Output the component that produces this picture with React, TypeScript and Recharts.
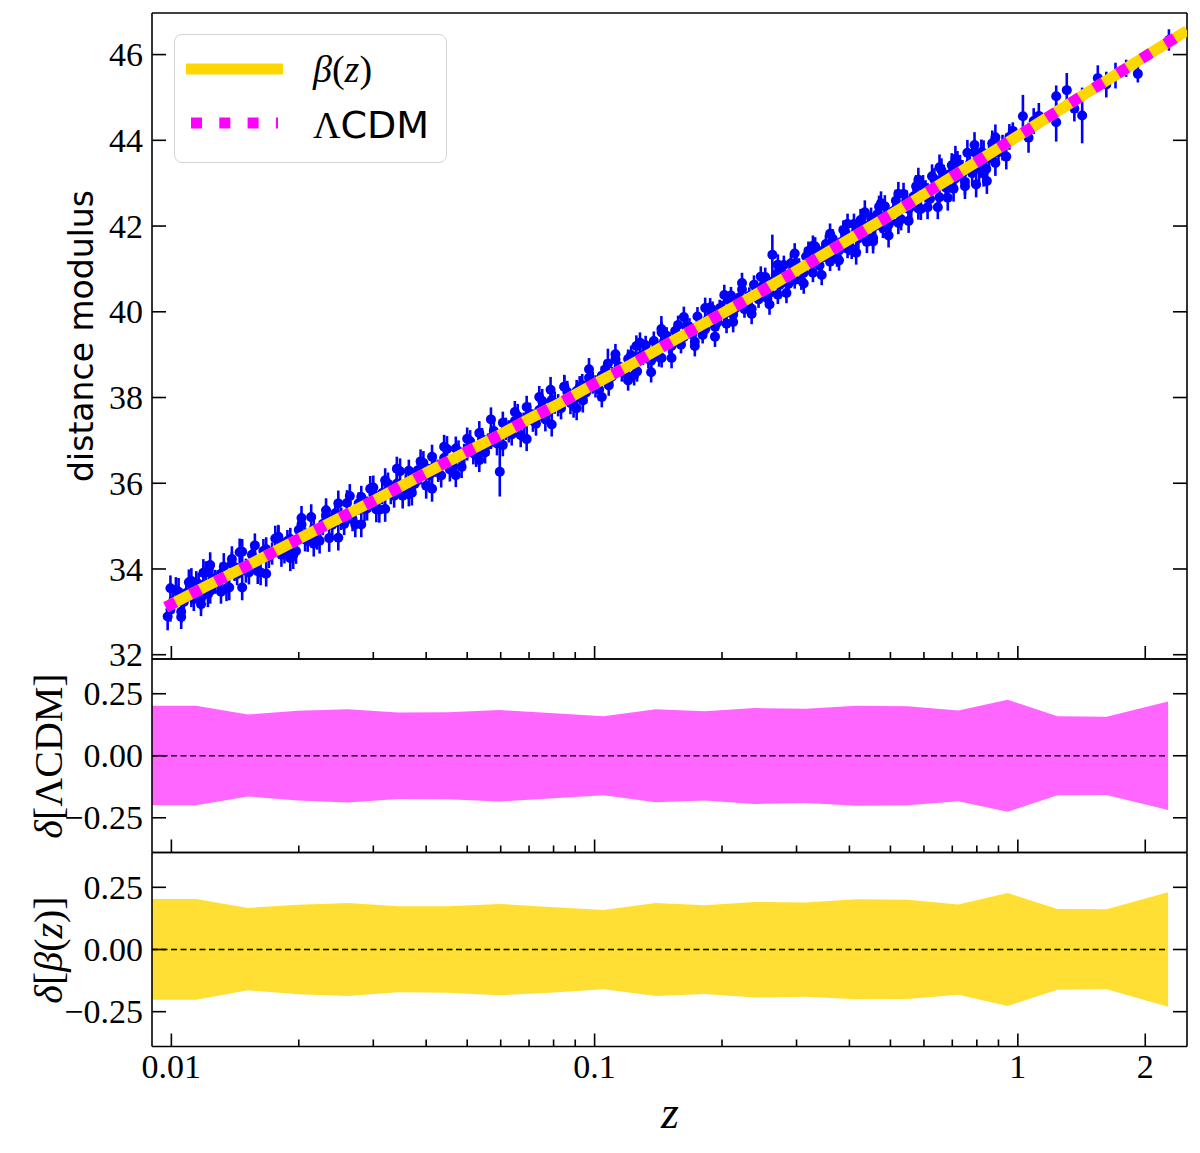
import React from 'react';
import {
  Area,
  ComposedChart,
  ErrorBar,
  Line,
  ReferenceLine,
  Scatter,
  XAxis,
  YAxis,
} from 'recharts';

const SERIF = '"Liberation Serif", "DejaVu Serif", serif';
const SANS = '"DejaVu Sans", "Liberation Sans", sans-serif';

// supernovae, [z, distance modulus, error]; z < 0.105
const sneLow: [number, number, number][] = [
  [0.0098, 32.89, 0.32], [0.0101, 33.25, 0.28], [0.0104, 33.47, 0.32], [0.0107, 33.23, 0.26],
  [0.011, 33.69, 0.3], [0.0113, 33.3, 0.28], [0.0116, 33.65, 0.26], [0.0119, 33.91, 0.32],
  [0.0122, 33.41, 0.3], [0.0125, 33.77, 0.26], [0.0129, 33.68, 0.28], [0.0133, 34.05, 0.32],
  [0.0137, 33.57, 0.3], [0.0141, 33.98, 0.26], [0.0145, 34.39, 0.32], [0.015, 33.96, 0.28],
  [0.0155, 34.33, 0.26], [0.016, 33.95, 0.3], [0.0165, 34.42, 0.28], [0.017, 34.28, 0.26],
  [0.0176, 34.71, 0.3], [0.0182, 34.33, 0.28], [0.0188, 34.65, 0.26], [0.0194, 34.32, 0.32],
  [0.02, 34.91, 0.26], [0.0207, 34.69, 0.28], [0.0214, 35.21, 0.3], [0.0221, 34.73, 0.28],
  [0.0228, 35.05, 0.26], [0.0236, 34.72, 0.32], [0.0244, 35.3, 0.26], [0.0252, 35.17, 0.26],
  [0.026, 35.54, 0.3], [0.0268, 35.16, 0.28], [0.0277, 35.53, 0.26], [0.0286, 35.4, 0.28],
  [0.0295, 35.87, 0.3], [0.0305, 35.39, 0.3], [0.0315, 35.77, 0.26], [0.0325, 35.99, 0.26],
  [0.0336, 35.71, 0.28], [0.0347, 36.28, 0.3], [0.0358, 35.95, 0.26], [0.037, 35.78, 0.3],
  [0.0382, 36.3, 0.26], [0.0394, 36.47, 0.28], [0.0407, 36.19, 0.26], [0.042, 36.41, 0.26],
  [0.0434, 36.18, 0.28], [0.0448, 36.8, 0.3], [0.0462, 36.42, 0.26], [0.0477, 36.74, 0.26],
  [0.0492, 36.66, 0.26], [0.0508, 36.98, 0.26], [0.0525, 36.66, 0.28], [0.0542, 37.03, 0.26],
  [0.056, 36.9, 0.26], [0.0578, 37.22, 0.26], [0.0597, 36.27, 0.58], [0.0617, 37.27, 0.26],
  [0.0637, 37.14, 0.26], [0.0658, 37.57, 0.28], [0.068, 37.39, 0.26], [0.0703, 37.62, 0.26],
  [0.0727, 37.39, 0.28], [0.0752, 37.92, 0.28], [0.0778, 37.65, 0.26], [0.0787, 38.18, 0.3],
  [0.0805, 37.88, 0.26], [0.0833, 37.75, 0.26], [0.0862, 38.13, 0.26], [0.0892, 37.81, 0.28],
  [0.0922, 38.24, 0.26], [0.0935, 38.29, 0.26], [0.0955, 38.12, 0.26], [0.099, 38.35, 0.26],
  [0.1025, 38.18, 0.26],
  [0.00995, 33.05, 0.28], [0.01025, 33.51, 0.3], [0.01055, 33.0, 0.26], [0.01085, 33.44, 0.28],
  [0.01115, 33.37, 0.26], [0.01145, 33.65, 0.3], [0.01175, 33.31, 0.28], [0.01205, 33.92, 0.26],
  [0.01235, 33.49, 0.3], [0.0127, 33.7, 0.28], [0.0131, 33.89, 0.26], [0.0135, 33.55, 0.3],
  [0.0139, 34.12, 0.28], [0.0143, 33.88, 0.26], [0.0147, 34.4, 0.3], [0.01525, 33.92, 0.28],
  [0.01575, 34.22, 0.26], [0.01625, 33.92, 0.3], [0.01675, 34.46, 0.28], [0.0173, 34.36, 0.26],
  [0.0179, 34.7, 0.3], [0.0185, 34.41, 0.28], [0.0191, 34.7, 0.26], [0.0197, 34.42, 0.3],
  [0.0203, 35.04, 0.28], [0.021, 34.66, 0.26], [0.0217, 34.94, 0.28], [0.0224, 34.66, 0.3],
  [0.0232, 35.24, 0.26], [0.024, 35.03, 0.28], [0.0248, 35.53, 0.3], [0.0256, 35.05, 0.26],
  [0.0264, 35.34, 0.28], [0.0272, 35.04, 0.3], [0.0281, 35.68, 0.26], [0.029, 35.41, 0.28],
  [0.03, 35.75, 0.26], [0.031, 35.38, 0.3], [0.032, 36.07, 0.28], [0.033, 35.77, 0.26],
  [0.0341, 35.99, 0.28], [0.0352, 35.71, 0.3], [0.0364, 36.29, 0.26], [0.0376, 35.99, 0.28],
  [0.0388, 36.23, 0.26], [0.04, 35.94, 0.3], [0.0413, 36.62, 0.28], [0.0427, 36.29, 0.26],
  [0.0441, 36.59, 0.26], [0.0455, 36.32, 0.28], [0.047, 36.81, 0.28], [0.0485, 36.38, 0.26],
  [0.05, 36.79, 0.26], [0.0517, 36.7, 0.26], [0.0534, 37.17, 0.28], [0.0551, 36.72, 0.26],
  [0.0569, 37.06, 0.26], [0.0588, 36.93, 0.28], [0.0607, 37.41, 0.26], [0.0627, 37.21, 0.26],
  [0.0648, 37.45, 0.26], [0.0669, 37.12, 0.28], [0.0691, 37.78, 0.26], [0.0715, 37.46, 0.26],
  [0.074, 37.71, 0.26], [0.0765, 37.49, 0.28], [0.0792, 37.94, 0.26], [0.082, 37.82, 0.26],
  [0.0848, 38.25, 0.28], [0.0877, 37.87, 0.26], [0.0907, 38.15, 0.26], [0.0938, 37.93, 0.28],
  [0.097, 38.46, 0.26], [0.1005, 38.26, 0.26],
  [0.00995, 33.55, 0.3], [0.01055, 32.88, 0.28], [0.01115, 33.72, 0.3], [0.01175, 33.18, 0.28],
  [0.01235, 34.09, 0.3], [0.0131, 33.47, 0.28], [0.0139, 34.23, 0.3], [0.0147, 33.57, 0.3],
  [0.01575, 34.55, 0.28], [0.01675, 33.89, 0.3], [0.0179, 34.75, 0.28], [0.0191, 34.25, 0.3],
  [0.0203, 35.19, 0.28], [0.0217, 34.59, 0.3], [0.0232, 35.37, 0.28], [0.0248, 34.73, 0.3],
  [0.0264, 35.7, 0.28], [0.0281, 35.04, 0.3], [0.03, 35.9, 0.28], [0.032, 35.4, 0.3],
  [0.0341, 36.34, 0.28], [0.0364, 35.74, 0.28], [0.0388, 36.51, 0.28], [0.0413, 35.87, 0.3],
  [0.0441, 36.85, 0.28], [0.047, 36.19, 0.28], [0.05, 37.04, 0.26], [0.0534, 36.54, 0.28],
  [0.0569, 37.49, 0.28], [0.0607, 36.89, 0.26], [0.0648, 37.66, 0.26], [0.0691, 37.03, 0.28],
  [0.074, 38.01, 0.26], [0.0792, 37.37, 0.28], [0.0848, 38.25, 0.26], [0.0907, 37.75, 0.28],
  [0.097, 38.66, 0.26],
];

// 0.105 <= z <= 0.4
const sneMid: [number, number, number][] = [
  [0.106, 38.66, 0.22], [0.1075, 38.79, 0.35], [0.11, 38.49, 0.22], [0.114, 38.73, 0.22],
  [0.118, 38.56, 0.22], [0.122, 38.99, 0.22], [0.1255, 39.2, 0.25], [0.126, 38.61, 0.24],
  [0.13, 38.98, 0.22], [0.134, 38.9, 0.22], [0.138, 39.32, 0.22], [0.142, 38.94, 0.22],
  [0.1438, 39.6, 0.3], [0.146, 39.31, 0.2], [0.15, 39.22, 0.2], [0.155, 39.55, 0.22],
  [0.16, 39.23, 0.2], [0.165, 39.65, 0.2], [0.17, 39.47, 0.2], [0.175, 39.89, 0.22],
  [0.18, 39.46, 0.2], [0.185, 39.82, 0.2], [0.19, 40.04, 0.2], [0.195, 39.75, 0.2],
  [0.2, 40.06, 0.2], [0.205, 39.72, 0.22], [0.21, 40.38, 0.2], [0.215, 40.08, 0.2],
  [0.22, 40.34, 0.2], [0.226, 40.06, 0.2], [0.232, 40.37, 0.2], [0.238, 40.63, 0.22],
  [0.244, 40.29, 0.2], [0.25, 40.6, 0.2], [0.256, 40.31, 0.2], [0.263, 41.33, 0.47],
  [0.268, 40.87, 0.2], [0.274, 40.63, 0.2], [0.28, 41.09, 0.22], [0.287, 40.65, 0.2],
  [0.294, 40.96, 0.2], [0.3, 41.11, 0.2], [0.308, 40.73, 0.22], [0.316, 41.29, 0.2],
  [0.324, 41.1, 0.2], [0.332, 41.52, 0.22], [0.34, 41.08, 0.2], [0.348, 41.44, 0.2],
  [0.356, 41.29, 0.2], [0.365, 41.71, 0.22], [0.374, 41.27, 0.22], [0.383, 41.63, 0.2],
  [0.392, 41.84, 0.22], [0.4, 41.54, 0.22],
  [0.104, 38.51, 0.22], [0.108, 38.28, 0.24], [0.112, 38.89, 0.22], [0.116, 38.59, 0.22],
  [0.12, 38.9, 0.22], [0.124, 38.52, 0.24], [0.128, 38.95, 0.22], [0.132, 39.22, 0.22],
  [0.136, 38.86, 0.22], [0.14, 39.19, 0.2], [0.144, 38.92, 0.22], [0.148, 39.44, 0.2],
  [0.152, 39.2, 0.2], [0.1575, 39.69, 0.22], [0.1625, 39.41, 0.2], [0.1675, 39.65, 0.2],
  [0.1725, 39.3, 0.22], [0.1775, 39.72, 0.2], [0.1825, 39.59, 0.2], [0.1875, 40.1, 0.22],
  [0.1925, 39.65, 0.2], [0.1975, 40.08, 0.2], [0.2025, 39.94, 0.2], [0.2075, 40.27, 0.2],
  [0.2125, 39.93, 0.2], [0.2175, 40.21, 0.2], [0.223, 40.52, 0.22], [0.229, 40.19, 0.2],
  [0.235, 40.07, 0.22], [0.241, 40.53, 0.2], [0.247, 40.42, 0.2], [0.253, 40.81, 0.22],
  [0.259, 40.44, 0.2], [0.265, 40.73, 0.2], [0.271, 40.4, 0.22], [0.277, 40.91, 0.2],
  [0.284, 40.77, 0.2], [0.291, 41.13, 0.22], [0.297, 40.74, 0.2], [0.304, 41.05, 0.2],
  [0.312, 40.91, 0.2], [0.32, 41.42, 0.22], [0.328, 40.91, 0.22], [0.336, 41.35, 0.2],
  [0.344, 41.26, 0.2], [0.352, 41.58, 0.22], [0.36, 41.17, 0.22], [0.369, 41.53, 0.2],
  [0.378, 41.43, 0.2], [0.387, 41.91, 0.22], [0.396, 41.47, 0.22],
  [0.104, 38.01, 0.24], [0.112, 39.01, 0.24], [0.12, 38.4, 0.24], [0.128, 39.28, 0.24],
  [0.136, 38.59, 0.24], [0.144, 39.52, 0.24], [0.152, 38.92, 0.24], [0.1625, 39.88, 0.24],
  [0.1725, 39.2, 0.24], [0.1825, 40.09, 0.24], [0.1925, 39.42, 0.24], [0.2025, 40.39, 0.24],
  [0.2125, 39.76, 0.24], [0.223, 40.67, 0.24], [0.235, 39.95, 0.24], [0.247, 40.82, 0.24],
  [0.259, 40.17, 0.24], [0.271, 41.1, 0.24], [0.284, 40.44, 0.24], [0.297, 41.36, 0.24],
  [0.312, 40.66, 0.24], [0.328, 41.54, 0.24], [0.344, 40.86, 0.24], [0.36, 41.82, 0.24],
  [0.378, 41.2, 0.24], [0.396, 42.05, 0.24],
];

// z > 0.4
const sneHigh: [number, number, number][] = [
  [0.41, 42.05, 0.24], [0.42, 41.71, 0.24], [0.43, 41.98, 0.24], [0.44, 41.63, 0.26],
  [0.45, 42.19, 0.24], [0.46, 42.0, 0.24], [0.47, 42.45, 0.26], [0.48, 41.96, 0.24],
  [0.49, 42.26, 0.24], [0.5, 42.11, 0.24], [0.515, 42.59, 0.26], [0.53, 42.16, 0.26],
  [0.545, 42.59, 0.24], [0.56, 42.46, 0.26], [0.575, 42.93, 0.26], [0.59, 42.4, 0.26],
  [0.605, 42.81, 0.26], [0.62, 42.63, 0.26], [0.635, 43.09, 0.26], [0.647, 42.44, 0.28],
  [0.66, 43.3, 0.28], [0.675, 42.9, 0.28], [0.69, 43.21, 0.28], [0.705, 42.87, 0.3],
  [0.72, 43.47, 0.28], [0.74, 43.24, 0.3], [0.76, 43.71, 0.3], [0.78, 43.23, 0.3],
  [0.797, 42.97, 0.3], [0.82, 43.72, 0.3], [0.842, 43.33, 0.4], [0.845, 43.05, 0.3],
  [0.87, 43.93, 0.3], [0.9, 43.72, 0.3], [0.939, 43.62, 0.3], [0.973, 44.22, 0.2],
  [0.405, 41.47, 0.24], [0.415, 41.9, 0.24], [0.425, 42.14, 0.26], [0.435, 41.78, 0.24],
  [0.445, 42.01, 0.24], [0.455, 41.72, 0.26], [0.465, 42.27, 0.24], [0.475, 42.08, 0.24],
  [0.485, 42.46, 0.26], [0.495, 42.03, 0.24], [0.508, 42.35, 0.24], [0.522, 42.07, 0.26],
  [0.537, 42.75, 0.26], [0.552, 42.4, 0.24], [0.567, 42.69, 0.26], [0.582, 42.41, 0.26],
  [0.597, 42.93, 0.26], [0.612, 42.74, 0.26], [0.627, 43.16, 0.28], [0.653, 42.67, 0.28],
  [0.668, 43.15, 0.28], [0.683, 42.88, 0.28], [0.698, 43.42, 0.28], [0.712, 43.11, 0.28],
  [0.73, 43.36, 0.3], [0.75, 43.03, 0.3], [0.77, 43.45, 0.3], [0.79, 43.72, 0.3],
  [0.81, 43.33, 0.3], [0.83, 43.7, 0.3], [0.855, 43.58, 0.3], [0.885, 44.07, 0.3],
  [0.92, 43.83, 0.3], [0.955, 44.08, 0.3],
  [0.415, 41.38, 0.28], [0.435, 42.32, 0.28], [0.455, 41.64, 0.28], [0.475, 42.53, 0.28],
  [0.495, 41.78, 0.28], [0.522, 42.75, 0.28], [0.552, 42.12, 0.28], [0.582, 43.08, 0.28],
  [0.612, 42.44, 0.28], [0.653, 43.37, 0.3], [0.683, 42.66, 0.3], [0.712, 43.57, 0.3],
  [0.75, 42.93, 0.3], [0.79, 43.89, 0.3], [0.83, 43.22, 0.3], [0.885, 43.47, 0.3],
  [1.028, 44.56, 0.5], [1.06, 44.06, 0.35], [1.09, 44.45, 0.3], [1.121, 44.57, 0.3],
  [1.232, 45.03, 0.25], [1.232, 44.42, 0.45], [1.305, 45.17, 0.4], [1.36, 44.74, 0.3],
  [1.419, 44.58, 0.65], [1.545, 45.45, 0.3], [1.618, 45.3, 0.3], [1.701, 45.51, 0.3],
  [1.803, 45.68, 0.2], [1.921, 45.55, 0.2], [2.275, 46.34, 0.25],
];

// best-fit curves, [z, mu]
const betaCurve: [number, number][] = [
  [0.0097, 33.11], [0.012, 33.58], [0.015, 34.06], [0.02, 34.7], [0.025, 35.19],
  [0.03, 35.59], [0.04, 36.24], [0.05, 36.74], [0.06, 37.14], [0.07, 37.5],
  [0.08, 37.79], [0.1, 38.32], [0.12, 38.73], [0.15, 39.27], [0.2, 39.96],
  [0.25, 40.5], [0.3, 40.96], [0.4, 41.69], [0.5, 42.26], [0.6, 42.74],
  [0.7, 43.15], [0.8, 43.5], [0.9, 43.82], [1.0, 44.1], [1.2, 44.59],
  [1.5, 45.19], [1.75, 45.6], [2.0, 45.96], [2.25, 46.27], [2.51, 46.56],
];
const lcdmCurve: [number, number][] = [
  [0.0097, 33.11], [0.012, 33.58], [0.015, 34.06], [0.02, 34.7], [0.025, 35.19],
  [0.03, 35.59], [0.04, 36.24], [0.05, 36.74], [0.06, 37.14], [0.07, 37.5],
  [0.08, 37.79], [0.1, 38.32], [0.12, 38.73], [0.15, 39.27], [0.2, 39.96],
  [0.25, 40.5], [0.3, 40.96], [0.4, 41.69], [0.5, 42.26], [0.6, 42.74],
  [0.7, 43.15], [0.8, 43.5], [0.9, 43.82], [1.0, 44.1], [1.2, 44.59],
  [1.5, 45.19], [1.75, 45.6], [2.0, 45.96], [2.25, 46.27], [2.51, 46.56],
];

// residual bands
const bandZ = [
  0.0087, 0.01144, 0.01516, 0.0199, 0.02614, 0.0343, 0.045, 0.0597, 0.0784, 0.105, 0.1395,
  0.182, 0.239, 0.3155, 0.416, 0.549, 0.723, 0.946, 1.24, 1.62, 2.265,
];
const lcdmUpper = [
  0.202, 0.202, 0.166, 0.181, 0.187, 0.174, 0.175, 0.184, 0.172, 0.159, 0.187,
  0.179, 0.192, 0.189, 0.202, 0.2, 0.182, 0.226, 0.159, 0.157, 0.219,
];
const lcdmLower = [
  -0.2, -0.2, -0.164, -0.18, -0.188, -0.174, -0.175, -0.184, -0.172, -0.159, -0.187,
  -0.18, -0.194, -0.19, -0.202, -0.2, -0.183, -0.226, -0.159, -0.158, -0.219,
];
const betaUpper = [
  0.203, 0.203, 0.167, 0.18, 0.187, 0.174, 0.174, 0.183, 0.171, 0.159, 0.187,
  0.178, 0.191, 0.189, 0.202, 0.2, 0.181, 0.227, 0.163, 0.162, 0.23,
];
const betaLower = [
  -0.202, -0.202, -0.164, -0.18, -0.187, -0.172, -0.174, -0.184, -0.174, -0.16, -0.187,
  -0.179, -0.193, -0.19, -0.2, -0.199, -0.182, -0.227, -0.162, -0.16, -0.23,
];

const majorZ = [0.01, 0.1, 1, 2];
const minorZ = [
  0.02, 0.03, 0.04, 0.05, 0.06, 0.07, 0.08, 0.09, 0.2, 0.3, 0.4, 0.5, 0.6, 0.7, 0.8, 0.9,
];
const zTicks = [...majorZ, ...minorZ].sort((a, b) => a - b);
const zTickLabels = ['0.01', '0.1', '1', '2'];
const muTicks = [32, 34, 36, 38, 40, 42, 44, 46];
const deltaTicks = [-0.25, 0, 0.25];
const deltaTickLabels = ['\u22120.25', '0.00', '0.25'];

const zDomain: [number, number] = [0.009, 2.51];
const muDomain: [number, number] = [31.9, 46.97];
const deltaDomain: [number, number] = [-0.39, 0.39];

const sneRows = [...sneLow, ...sneMid, ...sneHigh].map(([z, mu, err]) => ({ z, mu, err }));
const betaRows = betaCurve.map(([z, mu]) => ({ z, mu }));
const lcdmRows = lcdmCurve.map(([z, mu]) => ({ z, mu }));
const lcdmBand = bandZ.map((z, i) => ({ z, range: [lcdmLower[i], lcdmUpper[i]] }));
const betaBand = bandZ.map((z, i) => ({ z, range: [betaLower[i], betaUpper[i]] }));

const INK = '#000';
const AX = { stroke: INK, strokeWidth: 1.6 };
const tickText = { fontFamily: SERIF, fontSize: 34 };

function zTick(side: 'top' | 'bottom', labels: boolean) {
  return (p: any) => {
    const v = p.payload.value as number;
    const mi = majorZ.indexOf(v);
    const len = mi >= 0 ? 13 : 7;
    const dir = side === 'bottom' ? -1 : 1;
    return (
      <g>
        <line x1={p.x} x2={p.x} y1={p.y} y2={p.y + dir * len} stroke={INK} strokeWidth={1.6} />
        {labels && mi >= 0 ? (
          <text x={p.x} y={p.y + 31} textAnchor="middle" style={tickText} fill={INK}>
            {zTickLabels[mi]}
          </text>
        ) : null}
      </g>
    );
  };
}

function yTick(side: 'left' | 'right', labelFor?: (v: number) => string) {
  return (p: any) => {
    const v = p.payload.value as number;
    const dir = side === 'left' ? 1 : -1;
    return (
      <g>
        <line x1={p.x} x2={p.x + dir * 14} y1={p.y} y2={p.y} stroke={INK} strokeWidth={1.6} />
        {labelFor ? (
          <text x={p.x - 9} y={p.y} dy="0.34em" textAnchor="end" style={tickText} fill={INK}>
            {labelFor(v)}
          </text>
        ) : null}
      </g>
    );
  };
}

const muLabel = (v: number) => String(v);
const deltaLabel = (v: number) => deltaTickLabels[deltaTicks.indexOf(v)];

// the four spines with inward ticks, shared by the three panels
function axes(
  topH: number,
  bottomH: number,
  yDomain: [number, number],
  yTicks: number[],
  yLabel: (v: number) => string,
  xLabels: boolean,
) {
  return [
    <XAxis
      key="xb"
      xAxisId="x"
      dataKey="z"
      type="number"
      scale="log"
      domain={zDomain}
      allowDataOverflow
      ticks={zTicks}
      interval={0}
      tickSize={0}
      tickMargin={0}
      height={bottomH}
      axisLine={AX}
      tickLine={false}
      tick={zTick('bottom', xLabels)}
    />,
    <XAxis
      key="xt"
      xAxisId="xt"
      orientation="top"
      type="number"
      scale="log"
      domain={zDomain}
      allowDataOverflow
      ticks={zTicks}
      interval={0}
      tickSize={0}
      tickMargin={0}
      height={topH}
      axisLine={AX}
      tickLine={false}
      tick={zTick('top', false)}
    />,
    <YAxis
      key="yl"
      yAxisId="y"
      type="number"
      domain={yDomain}
      allowDataOverflow
      ticks={yTicks}
      interval={0}
      tickSize={0}
      tickMargin={0}
      width={152}
      axisLine={AX}
      tickLine={false}
      tick={yTick('left', yLabel)}
    />,
    <YAxis
      key="yr"
      yAxisId="yr"
      orientation="right"
      type="number"
      domain={yDomain}
      allowDataOverflow
      ticks={yTicks}
      interval={0}
      tickSize={0}
      tickMargin={0}
      width={13}
      axisLine={AX}
      tickLine={false}
      tick={yTick('right')}
    />,
  ];
}

const dot = (p: any) => <circle cx={p.cx} cy={p.cy} r={5} fill="#0000ff" />;

export default function App() {
  return (
    <div style={{ position: 'relative', width: 1200, height: 1153, background: '#fff', overflow: 'hidden' }}>
      <style>{'body{margin:0}'}</style>

      {/* top panel: spines and supernovae */}
      <div style={{ position: 'absolute', left: 0, top: 0 }}>
        <ComposedChart width={1200} height={680} margin={{ top: 0, right: 0, bottom: 0, left: 0 }}>
          {axes(13, 21, muDomain, muTicks, muLabel, false)}
          <Scatter
            data={sneRows}
            dataKey="mu"
            xAxisId="x"
            yAxisId="y"
            shape={dot}
            isAnimationActive={false}
          >
            <ErrorBar dataKey="err" direction="y" width={0} stroke="#0000ff" strokeWidth={2.6} />
          </Scatter>
        </ComposedChart>
      </div>

      {/* top panel: model curves drawn over the points */}
      <div style={{ position: 'absolute', left: 0, top: 0 }}>
        <ComposedChart width={1200} height={680} margin={{ top: 13, right: 13, bottom: 21, left: 152 }}>
          <XAxis xAxisId="x" dataKey="z" type="number" scale="log" domain={zDomain} allowDataOverflow hide />
          <YAxis yAxisId="y" type="number" domain={muDomain} allowDataOverflow hide />
          <Line
            data={betaRows}
            dataKey="mu"
            xAxisId="x"
            yAxisId="y"
            type="linear"
            stroke="#FFD700"
            strokeWidth={11}
            dot={false}
            activeDot={false}
            isAnimationActive={false}
          />
          <Line
            data={lcdmRows}
            dataKey="mu"
            xAxisId="x"
            yAxisId="y"
            type="linear"
            stroke="#FF00FF"
            strokeWidth={11}
            strokeDasharray="11 17"
            dot={false}
            activeDot={false}
            isAnimationActive={false}
          />
        </ComposedChart>
      </div>

      <div style={{ position: 'absolute', left: 0, top: 640 }}>
        <ComposedChart width={1200} height={232} margin={{ top: 0, right: 0, bottom: 0, left: 0 }}>
          {axes(19, 19.5, deltaDomain, deltaTicks, deltaLabel, false)}
          <Area
            data={lcdmBand}
            dataKey="range"
            xAxisId="x"
            yAxisId="y"
            type="linear"
            fill="#FF66FF"
            fillOpacity={1}
            stroke="none"
            isAnimationActive={false}
          />
          <ReferenceLine
            xAxisId="x"
            yAxisId="y"
            segment={[{ x: zDomain[0], y: 0 }, { x: bandZ[bandZ.length - 1], y: 0 }]}
            stroke={INK}
            strokeWidth={1.6}
            strokeDasharray="6 3.5"
          />
        </ComposedChart>
      </div>

      <div style={{ position: 'absolute', left: 0, top: 833 }}>
        <ComposedChart width={1200} height={320} margin={{ top: 0, right: 0, bottom: 0, left: 0 }}>
          {axes(19.5, 106.5, deltaDomain, deltaTicks, deltaLabel, true)}
          <Area
            data={betaBand}
            dataKey="range"
            xAxisId="x"
            yAxisId="y"
            type="linear"
            fill="#FFDF33"
            fillOpacity={1}
            stroke="none"
            isAnimationActive={false}
          />
          <ReferenceLine
            xAxisId="x"
            yAxisId="y"
            segment={[{ x: zDomain[0], y: 0 }, { x: bandZ[bandZ.length - 1], y: 0 }]}
            stroke={INK}
            strokeWidth={1.6}
            strokeDasharray="6 3.5"
          />
        </ComposedChart>
      </div>

      <svg width={1200} height={1153} style={{ position: 'absolute', left: 0, top: 0, pointerEvents: 'none' }}>
        <text x={93} y={336} transform="rotate(-90 93 336)" textAnchor="middle" fontFamily={SANS} fontSize={33} fill={INK}>
          distance modulus
        </text>
        <text x={62} y={756} transform="rotate(-90 62 756)" textAnchor="middle" fontFamily={SERIF} fontSize={40} fill={INK}>
          <tspan fontStyle="italic">δ</tspan>[ΛCDM]
        </text>
        <text x={62} y={950} transform="rotate(-90 62 950)" textAnchor="middle" fontFamily={SERIF} fontSize={40} fill={INK}>
          <tspan fontStyle="italic">δ</tspan>[<tspan fontStyle="italic">β</tspan>(<tspan fontStyle="italic">z</tspan>)]
        </text>
        <text x={670} y={1128} textAnchor="middle" fontFamily={SERIF} fontStyle="italic" fontSize={46} fill={INK}>
          z
        </text>
      </svg>

      <div
        style={{
          position: 'absolute',
          left: 174,
          top: 34,
          width: 273,
          height: 129,
          boxSizing: 'border-box',
          border: '1.5px solid #d4d4d4',
          borderRadius: 8,
          background: 'rgba(255,255,255,0.8)',
        }}
      >
        <svg width={273} height={129} style={{ position: 'absolute', left: -1.5, top: -1.5 }}>
          <line x1={12} x2={109} y1={35} y2={35} stroke="#FFD700" strokeWidth={11} />
          <line x1={17} x2={104} y1={89} y2={89} stroke="#FF00FF" strokeWidth={11} strokeDasharray="11 17.3" />
          <text x={139} y={48} fontFamily={SERIF} fontSize={38} fill={INK}>
            <tspan fontStyle="italic">β</tspan>(<tspan fontStyle="italic">z</tspan>)
          </text>
          <text x={139} y={104} fontSize={38} fill={INK}>
            <tspan fontFamily={SERIF}>Λ</tspan>
            <tspan fontFamily={SANS}>CDM</tspan>
          </text>
        </svg>
      </div>
    </div>
  );
}
